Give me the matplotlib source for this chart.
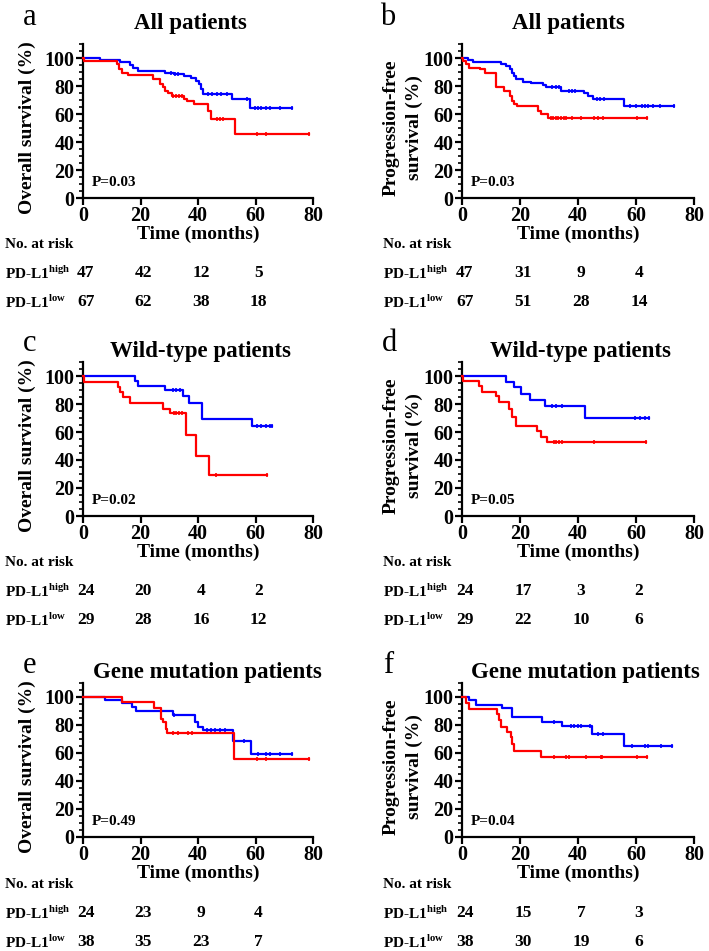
import numpy as np
import matplotlib
matplotlib.use('Agg')
import matplotlib.pyplot as plt
from matplotlib.ticker import MultipleLocator
from matplotlib.transforms import blended_transform_factory

plt.rcParams['font.family'] = 'Liberation Serif'
plt.rcParams['font.weight'] = 'bold'
plt.rcParams['axes.labelweight'] = 'bold'
plt.rcParams['mathtext.fontset'] = 'custom'
plt.rcParams['mathtext.rm'] = 'Liberation Serif:bold'
plt.rcParams['mathtext.bf'] = 'Liberation Serif:bold'

# ---- data ----
# a: overall survival, all patients
a_low_t = [0, 6, 13, 16.5, 17.5, 19, 28.5, 31.8, 35.3, 37.6, 39.4, 40.5, 41.1, 41.7, 51.7, 58.1, 72.6]
a_low_s = [100, 98.5, 97, 95, 93, 91, 89.6, 88.4, 87.2, 86, 83.7, 81.3, 77.8, 74.2, 70.7, 64.3, 64.3]
a_low_c = [30.5, 32, 33, 43.6, 45, 46.5, 48, 50, 56.9, 59.9, 61, 62, 63.5, 65, 68.5, 72.6]
a_high_t = [0, 0.5, 11.7, 12.6, 13.4, 15.8, 24.5, 26.8, 27.7, 28.5, 29.7, 30.8, 35.3, 36.2, 38.5, 43.4, 44.6, 52.9, 78.7]
a_high_s = [100, 97.9, 95.5, 92, 89.6, 87.7, 84.9, 81.3, 79, 76.6, 74.7, 73, 70.7, 69, 67.1, 62.4, 56.5, 45.9, 45.9]
a_high_c = [31.4, 32.5, 33.5, 34.3, 46.5, 47.5, 48.8, 60.4, 63.7, 78.7]

# b: progression-free survival, all patients
b_low_t = [0, 2.1, 3.8, 13.5, 15.2, 16.4, 17.2, 17.9, 18.7, 21, 23.8, 27.8, 29, 34.1, 42.1, 43.3, 45, 55.9, 73]
b_low_s = [100, 98.5, 97, 96, 94.3, 92, 89.6, 87.2, 84.9, 83.2, 82, 80.6, 79, 76.6, 74.7, 73, 70.7, 66, 66]
b_low_c = [31.2, 32.3, 33.5, 37, 38, 39, 46.5, 47.5, 49, 58.1, 60, 62, 63, 64, 66, 68.4, 73]
b_high_t = [0, 0.3, 1.5, 2.5, 6.1, 7.8, 11.8, 14.6, 16.4, 17.2, 18.1, 19.0, 26.1, 27.2, 29.5, 63.9]
b_high_s = [100, 98, 95.5, 93.1, 92, 89.6, 79, 76.6, 73, 69.5, 67, 65.5, 62.4, 60, 57.5, 57.5]
b_high_c = [30.7, 31.5, 32.3, 33, 34, 35, 36, 38.1, 41, 45.5, 47, 48.5, 60.5, 63.9]

# c: overall survival, wild-type
c_low_t = [0, 18.1, 19.2, 28.5, 34.9, 36.7, 41.3, 58.7, 65.9]
c_low_s = [100, 96.6, 93.1, 89.7, 86, 80.5, 69, 64.3, 64.3]
c_low_c = [31.4, 32.5, 33.7, 60.5, 62, 63.5, 65, 65.9]
c_high_t = [0, 0.3, 12.3, 12.9, 14.0, 16.3, 27.7, 30.3, 35.8, 39.3, 43.9, 64.1]
c_high_s = [100, 96, 92.4, 88.8, 85.2, 80.5, 76.2, 73.3, 57.9, 42.9, 29.3, 29.3]
c_high_c = [31.5, 32.5, 33.5, 34.5, 46.3, 64.1]

# d: progression-free survival, wild-type
d_low_t = [0, 15.0, 17.9, 20.5, 23.6, 28.6, 42.4, 64.4]
d_low_s = [100, 96, 91.9, 87.1, 83.1, 78.8, 70, 70]
d_low_c = [31.1, 32.5, 34.5, 59.8, 61.5, 63, 64.4]
d_high_t = [0, 0.3, 5.9, 7.0, 11.6, 12.7, 16.2, 17.3, 18.5, 25.9, 27.1, 29.4, 63.5]
d_high_s = [100, 96.7, 93.1, 88.8, 86, 81.2, 76.4, 70.5, 64.5, 60.9, 56.2, 52.6, 52.6]
d_high_c = [31.7, 32.5, 33.5, 34.6, 45.5, 63.5]

# e: overall survival, gene mutation
e_low_t = [0, 7.6, 13.4, 16.9, 18.4, 31.4, 38.9, 40.1, 41.9, 52.1, 58.3, 72.6]
e_low_s = [100, 98, 95.5, 93, 89.9, 87, 82.2, 78.6, 76.2, 68.9, 59.3, 59.3]
e_low_c = [31.6, 43, 44.5, 46, 47.5, 49.4, 56, 60.7, 63.5, 65, 68.5, 72.6]
e_high_t = [0, 13.4, 24.7, 27.1, 27.9, 28.9, 29.3, 52.6, 78.7]
e_high_s = [100, 96.2, 91.9, 84.6, 82.2, 77.3, 74.2, 55.7, 55.7]
e_high_c = [31.4, 33, 36.5, 37.8, 60.4, 63.7, 78.7]

# f: progression-free survival, gene mutation
f_low_t = [0, 2.3, 4.7, 13.9, 17.3, 27.7, 34.6, 44.9, 55.8, 72.4]
f_low_s = [100, 97.6, 94.1, 91.8, 85.7, 82.2, 79.1, 73.8, 64.8, 64.8]
f_low_c = [31.7, 37.5, 38.5, 40, 41, 44, 47, 48.5, 58.5, 63, 64, 68.5, 72.4]
f_high_t = [0, 1.3, 2.4, 12.2, 12.7, 13.3, 15.6, 16.8, 17.3, 17.9, 27.4, 63.8]
f_high_s = [100, 95.7, 91.7, 88.1, 83.4, 78.6, 75, 71.4, 66.7, 61.2, 57.2, 57.2]
f_high_c = [31.7, 35.7, 36.9, 42.6, 47.8, 48.3, 60.4, 63.8]

risk_times = [0, 20, 40, 60]
a_risk_high = [47, 42, 12, 5]
a_risk_low = [67, 62, 38, 18]
b_risk_high = [47, 31, 9, 4]
b_risk_low = [67, 51, 28, 14]
c_risk_high = [24, 20, 4, 2]
c_risk_low = [29, 28, 16, 12]
d_risk_high = [24, 17, 3, 2]
d_risk_low = [29, 22, 10, 6]
e_risk_high = [24, 23, 9, 4]
e_risk_low = [38, 35, 23, 7]
f_risk_high = [24, 15, 7, 3]
f_risk_low = [38, 30, 19, 6]

letters = ['a', 'b', 'c', 'd', 'e', 'f']
titles = ['All patients', 'All patients', 'Wild-type patients', 'Wild-type patients',
          'Gene mutation patients', 'Gene mutation patients']
p_values = ['P=0.03', 'P=0.03', 'P=0.02', 'P=0.05', 'P=0.49', 'P=0.04']
os_label = 'Overall survival (%)'
pfs_label = 'Progression-free\nsurvival (%)'

BLUE = '#0000ff'
RED = '#ff0000'

W, H = 709, 951
fig = plt.figure(figsize=(W / 100, H / 100), dpi=100)


def fx(px):
    return px / W


def fy(py):
    return 1 - py / H


def km(ax, t, s, cens, color):
    t = np.asarray(t, float)
    s = np.asarray(s, float)
    ax.step(t, s, where='post', color=color, lw=1.6, zorder=3, clip_on=False)
    idx = np.searchsorted(t, cens, side='right') - 1
    ax.plot(cens, s[idx], ls='none', marker='|', ms=3, mew=1.2, color=color,
            zorder=3, clip_on=False)


panels = [
    (a_low_t, a_low_s, a_low_c, a_high_t, a_high_s, a_high_c, a_risk_high, a_risk_low),
    (b_low_t, b_low_s, b_low_c, b_high_t, b_high_s, b_high_c, b_risk_high, b_risk_low),
    (c_low_t, c_low_s, c_low_c, c_high_t, c_high_s, c_high_c, c_risk_high, c_risk_low),
    (d_low_t, d_low_s, d_low_c, d_high_t, d_high_s, d_high_c, d_risk_high, d_risk_low),
    (e_low_t, e_low_s, e_low_c, e_high_t, e_high_s, e_high_c, e_risk_high, e_risk_low),
    (f_low_t, f_low_s, f_low_c, f_high_t, f_high_s, f_high_c, f_risk_high, f_risk_low),
]

# layout in pixels
row_y0 = [198, 516, 837]          # pixel row of y=0
row_letter = [25, 351, 673]       # baseline of panel letter
row_title = [29, 357, 678]        # baseline of title
row_risk = [245, 563, 885]        # "No. at risk" row centre
col_left = [83, 462]
col_width = [230, 232]
title_x = [190, 568, 200, 580, 207, 585]
letter_x = [23, 380, 23, 382, 23, 383]
label_x = [5, 383]
ylab_x = [27, 403]
ax_h = 154

for i, (lt, ls_, lc, ht, hs, hc, rh, rl) in enumerate(panels):
    r, c = divmod(i, 2)
    y0 = row_y0[r]
    ax = fig.add_axes([fx(col_left[c]), fy(y0), fx(col_width[c]), ax_h / H])
    km(ax, lt, ls_, lc, BLUE)
    km(ax, ht, hs, hc, RED)

    ax.set_xlim(0, 80)
    ax.set_ylim(0, 110)
    ax.set_xticks([0, 20, 40, 60, 80])
    ax.set_yticks([0, 20, 40, 60, 80, 100])
    ax.yaxis.set_minor_locator(MultipleLocator(5))
    for side in ['top', 'right']:
        ax.spines[side].set_visible(False)
    for side in ['left', 'bottom']:
        ax.spines[side].set_linewidth(1.6)
    ax.tick_params(which='major', length=5, width=1.6, labelsize=14.5, pad=1)
    ax.tick_params(which='minor', length=3, width=1.2)

    fig.text(fx(col_left[c] + col_width[c] * 0.5), fy(y0 + 36.5), 'Time (months)',
             ha='center', va='center', fontsize=14)

    ax.text(3, 11, p_values[i], fontsize=11, va='center', ha='left')

    # y label, centred on the y=50 level
    fig.text(fx(ylab_x[c]), fy(y0 - 70), os_label if c == 0 else pfs_label,
             rotation=90, ha='center', va='center', fontsize=14,
             multialignment='center', linespacing=1.5)

    fig.text(fx(title_x[i]), fy(row_title[r]), titles[i], ha='center',
             va='baseline', fontsize=16.5)
    fig.text(fx(letter_x[i]), fy(row_letter[r]), letters[i], ha='left',
             va='baseline', fontsize=22, fontweight='normal')

    # number at risk table
    ry = row_risk[r]
    fig.text(fx(label_x[c]), fy(ry), 'No. at risk', ha='left', va='center', fontsize=11)
    fig.text(fx(label_x[c]), fy(ry + 28), 'PD-L1$^{\\mathrm{high}}$', ha='left',
             va='center', fontsize=11)
    fig.text(fx(label_x[c]), fy(ry + 57), 'PD-L1$^{\\mathrm{low}}$', ha='left',
             va='center', fontsize=11)
    tr = blended_transform_factory(ax.transData, fig.transFigure)
    for t, nh, nl in zip(risk_times, rh, rl):
        ax.text(t + 1, fy(ry + 28), str(nh), transform=tr, ha='center', va='center',
                fontsize=12.5)
        ax.text(t + 1, fy(ry + 57), str(nl), transform=tr, ha='center', va='center',
                fontsize=12.5)

fig.savefig('out.png', dpi=100)
